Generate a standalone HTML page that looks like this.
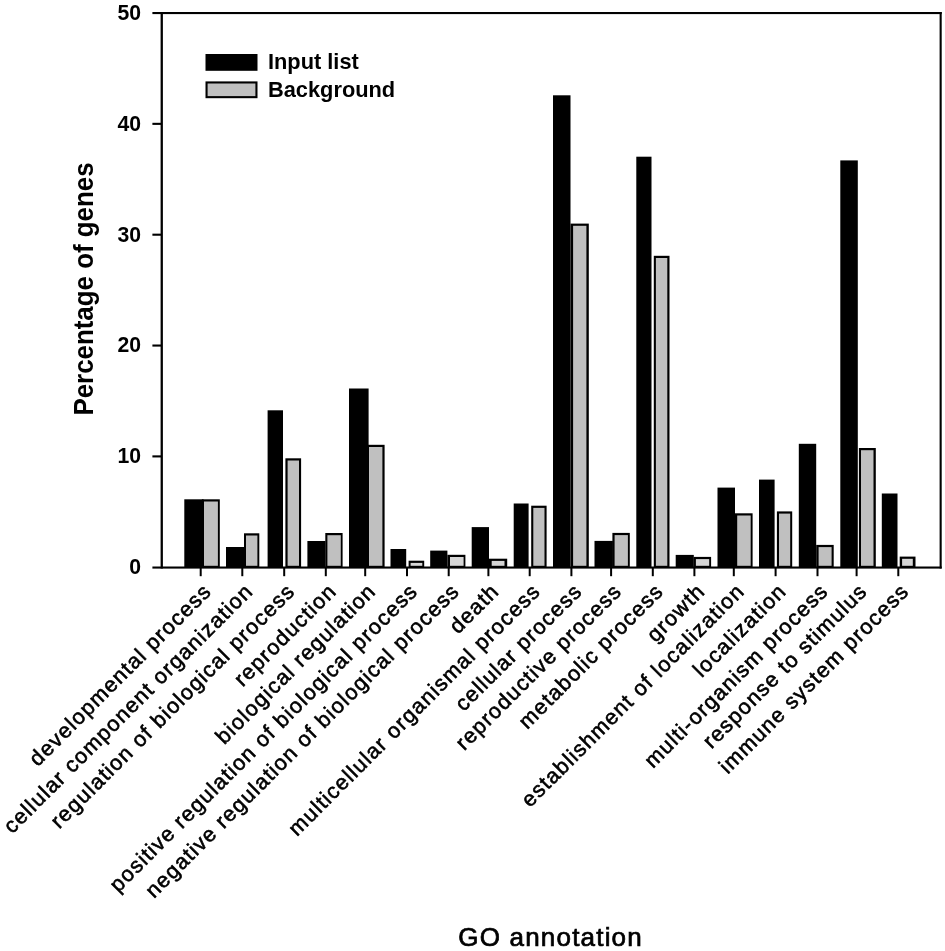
<!DOCTYPE html>
<html><head><meta charset="utf-8"><title>GO annotation chart</title>
<style>
html,body{margin:0;padding:0;background:#fff;}
body{width:945px;height:951px;overflow:hidden;}
svg{display:block;filter:blur(0.5px);}
text{font-family:"Liberation Sans",sans-serif;fill:#000;}
.b{font-weight:bold;}
</style></head><body>
<svg width="945" height="951" viewBox="0 0 945 951">
<rect x="0" y="0" width="945" height="951" fill="#fff"/>

<rect x="184.3" y="499.3" width="19.3" height="68.1" fill="#000"/>
<rect x="201.9" y="499.3" width="17.9" height="68.1" fill="#000"/>
<rect x="204.0" y="501.5" width="13.9" height="64.3" fill="#c0c0c0"/>
<rect x="226.0" y="547.0" width="18.0" height="20.4" fill="#000"/>
<rect x="244.0" y="533.3" width="15.3" height="34.1" fill="#000"/>
<rect x="246.0" y="535.5" width="11.4" height="30.3" fill="#c0c0c0"/>
<rect x="267.6" y="410.3" width="15.4" height="157.1" fill="#000"/>
<rect x="285.4" y="458.3" width="15.7" height="109.1" fill="#000"/>
<rect x="287.6" y="460.5" width="11.4" height="105.3" fill="#c0c0c0"/>
<rect x="307.4" y="541.0" width="18.1" height="26.4" fill="#000"/>
<rect x="325.3" y="533.0" width="17.3" height="34.4" fill="#000"/>
<rect x="327.4" y="535.2" width="13.4" height="30.6" fill="#c0c0c0"/>
<rect x="349.0" y="388.5" width="19.6" height="178.9" fill="#000"/>
<rect x="366.8" y="444.8" width="17.8" height="122.6" fill="#000"/>
<rect x="369.0" y="447.0" width="13.4" height="118.8" fill="#c0c0c0"/>
<rect x="390.5" y="549.0" width="15.7" height="18.4" fill="#000"/>
<rect x="408.6" y="560.7" width="15.6" height="6.7" fill="#000"/>
<rect x="410.6" y="562.9" width="11.7" height="2.9" fill="#d6d6d6"/>
<rect x="430.2" y="550.6" width="17.2" height="16.8" fill="#000"/>
<rect x="447.4" y="554.8" width="18.0" height="12.6" fill="#000"/>
<rect x="450.0" y="557.0" width="13.6" height="8.8" fill="#d6d6d6"/>
<rect x="471.7" y="527.1" width="17.3" height="40.3" fill="#000"/>
<rect x="489.0" y="558.7" width="18.2" height="8.7" fill="#000"/>
<rect x="491.7" y="560.9" width="12.8" height="4.9" fill="#d6d6d6"/>
<rect x="513.7" y="503.5" width="14.9" height="63.9" fill="#000"/>
<rect x="531.2" y="505.7" width="15.4" height="61.7" fill="#000"/>
<rect x="533.3" y="507.9" width="11.2" height="57.9" fill="#c0c0c0"/>
<rect x="553.0" y="95.3" width="17.5" height="472.1" fill="#000"/>
<rect x="570.5" y="223.6" width="18.3" height="343.8" fill="#000"/>
<rect x="573.1" y="225.8" width="13.3" height="340.0" fill="#c0c0c0"/>
<rect x="594.5" y="540.9" width="18.4" height="26.5" fill="#000"/>
<rect x="612.4" y="532.9" width="17.4" height="34.5" fill="#000"/>
<rect x="614.6" y="535.1" width="13.3" height="30.7" fill="#c0c0c0"/>
<rect x="636.3" y="156.7" width="15.2" height="410.7" fill="#000"/>
<rect x="653.8" y="255.8" width="15.7" height="311.6" fill="#000"/>
<rect x="655.9" y="258.0" width="11.4" height="307.8" fill="#c0c0c0"/>
<rect x="675.7" y="554.9" width="18.1" height="12.5" fill="#000"/>
<rect x="693.6" y="556.9" width="17.5" height="10.5" fill="#000"/>
<rect x="695.9" y="559.1" width="13.3" height="6.7" fill="#d6d6d6"/>
<rect x="717.5" y="487.6" width="17.5" height="79.8" fill="#000"/>
<rect x="734.8" y="513.3" width="17.8" height="54.1" fill="#000"/>
<rect x="737.2" y="515.5" width="13.5" height="50.3" fill="#c0c0c0"/>
<rect x="759.0" y="479.6" width="15.6" height="87.8" fill="#000"/>
<rect x="776.9" y="511.4" width="15.3" height="56.0" fill="#000"/>
<rect x="779.0" y="513.6" width="11.2" height="52.2" fill="#c0c0c0"/>
<rect x="798.8" y="443.8" width="17.4" height="123.6" fill="#000"/>
<rect x="816.2" y="544.9" width="17.5" height="22.5" fill="#000"/>
<rect x="818.6" y="547.1" width="13.0" height="18.7" fill="#c0c0c0"/>
<rect x="840.3" y="160.4" width="17.5" height="407.0" fill="#000"/>
<rect x="858.9" y="448.0" width="16.9" height="119.4" fill="#000"/>
<rect x="861.0" y="450.2" width="12.5" height="115.6" fill="#c0c0c0"/>
<rect x="881.8" y="493.5" width="15.7" height="73.9" fill="#000"/>
<rect x="899.7" y="556.6" width="15.8" height="10.8" fill="#000"/>
<rect x="902.1" y="558.8" width="10.7" height="7.0" fill="#d6d6d6"/>
<g fill="#000">
<rect x="160.6" y="12" width="2.3" height="556.5"/>
<rect x="152.4" y="12" width="789.3" height="2.1"/>
<rect x="939.6" y="12" width="2.1" height="556.5"/>
<rect x="152.4" y="566.5" width="789.3" height="2.1"/>
<rect x="152.4" y="122.80" width="9" height="2.1"/>
<rect x="152.4" y="233.65" width="9" height="2.1"/>
<rect x="152.4" y="344.50" width="9" height="2.1"/>
<rect x="152.4" y="455.35" width="9" height="2.1"/>
<rect x="199.7" y="567" width="2.0" height="9.2"/>
<rect x="241.3" y="567" width="2.0" height="9.2"/>
<rect x="283.2" y="567" width="2.0" height="9.2"/>
<rect x="324.8" y="567" width="2.0" height="9.2"/>
<rect x="364.2" y="567" width="2.0" height="9.2"/>
<rect x="406.0" y="567" width="2.0" height="9.2"/>
<rect x="447.7" y="567" width="2.0" height="9.2"/>
<rect x="487.4" y="567" width="2.0" height="9.2"/>
<rect x="528.7" y="567" width="2.0" height="9.2"/>
<rect x="570.4" y="567" width="2.0" height="9.2"/>
<rect x="610.1" y="567" width="2.0" height="9.2"/>
<rect x="651.8" y="567" width="2.0" height="9.2"/>
<rect x="693.4" y="567" width="2.0" height="9.2"/>
<rect x="732.8" y="567" width="2.0" height="9.2"/>
<rect x="774.6" y="567" width="2.0" height="9.2"/>
<rect x="816.5" y="567" width="2.0" height="9.2"/>
<rect x="855.6" y="567" width="2.0" height="9.2"/>
<rect x="897.3" y="567" width="2.0" height="9.2"/>
</g>
<text class="b" font-size="21.2" text-anchor="end" transform="translate(141,19.9) scale(1,1.07)">50</text>
<text class="b" font-size="21.2" text-anchor="end" transform="translate(141,130.8) scale(1,1.07)">40</text>
<text class="b" font-size="21.2" text-anchor="end" transform="translate(141,241.6) scale(1,1.07)">30</text>
<text class="b" font-size="21.2" text-anchor="end" transform="translate(141,352.4) scale(1,1.07)">20</text>
<text class="b" font-size="21.2" text-anchor="end" transform="translate(141,463.3) scale(1,1.07)">10</text>
<text class="b" font-size="21.2" text-anchor="end" transform="translate(141,574.1) scale(1,1.07)">0</text>
<text class="b" font-size="25.9" text-anchor="middle" transform="translate(92.5,289) rotate(-90) scale(1,1.04)">Percentage of genes</text>
<text font-size="26" stroke="#000" stroke-width="0.7" text-anchor="middle" x="550" y="946.3" textLength="183.5" lengthAdjust="spacing">GO annotation</text>
<rect x="205.5" y="54" width="52" height="16.8" fill="#000"/>
<rect x="205.5" y="81.4" width="52" height="16.8" fill="#000"/>
<rect x="207.6" y="83.5" width="47.8" height="12.6" fill="#c0c0c0"/>
<text class="b" font-size="21.8" transform="translate(268.0,69.2) scale(1,1.04)">Input list</text>
<text class="b" font-size="21.8" transform="translate(268.0,96.7) scale(1,1.04)">Background</text>
<text font-size="21.5" letter-spacing="1.25" stroke="#000" stroke-width="0.6" stroke-linejoin="round" text-anchor="end" transform="translate(212.7,592.4) rotate(-45)">developmental process</text>
<text font-size="21.5" letter-spacing="1.25" stroke="#000" stroke-width="0.6" stroke-linejoin="round" text-anchor="end" transform="translate(254.3,592.4) rotate(-45)">cellular component organization</text>
<text font-size="21.5" letter-spacing="1.25" stroke="#000" stroke-width="0.6" stroke-linejoin="round" text-anchor="end" transform="translate(296.2,592.4) rotate(-45)">regulation of biological process</text>
<text font-size="21.5" letter-spacing="1.25" stroke="#000" stroke-width="0.6" stroke-linejoin="round" text-anchor="end" transform="translate(337.8,592.4) rotate(-45)">reproduction</text>
<text font-size="21.5" letter-spacing="1.25" stroke="#000" stroke-width="0.6" stroke-linejoin="round" text-anchor="end" transform="translate(377.2,592.4) rotate(-45)">biological regulation</text>
<text font-size="21.5" letter-spacing="1.25" stroke="#000" stroke-width="0.6" stroke-linejoin="round" text-anchor="end" transform="translate(419.0,592.4) rotate(-45)">positive regulation of biological process</text>
<text font-size="21.5" letter-spacing="1.25" stroke="#000" stroke-width="0.6" stroke-linejoin="round" text-anchor="end" transform="translate(460.7,592.4) rotate(-45)">negative regulation of biological process</text>
<text font-size="21.5" letter-spacing="1.25" stroke="#000" stroke-width="0.6" stroke-linejoin="round" text-anchor="end" transform="translate(500.4,592.4) rotate(-45)">death</text>
<text font-size="21.5" letter-spacing="1.25" stroke="#000" stroke-width="0.6" stroke-linejoin="round" text-anchor="end" transform="translate(541.7,592.4) rotate(-45)">multicellular organismal process</text>
<text font-size="21.5" letter-spacing="1.25" stroke="#000" stroke-width="0.6" stroke-linejoin="round" text-anchor="end" transform="translate(583.4,592.4) rotate(-45)">cellular process</text>
<text font-size="21.5" letter-spacing="1.25" stroke="#000" stroke-width="0.6" stroke-linejoin="round" text-anchor="end" transform="translate(623.1,592.4) rotate(-45)">reproductive process</text>
<text font-size="21.5" letter-spacing="1.25" stroke="#000" stroke-width="0.6" stroke-linejoin="round" text-anchor="end" transform="translate(664.8,592.4) rotate(-45)">metabolic process</text>
<text font-size="21.5" letter-spacing="1.25" stroke="#000" stroke-width="0.6" stroke-linejoin="round" text-anchor="end" transform="translate(706.4,592.4) rotate(-45)">growth</text>
<text font-size="21.5" letter-spacing="1.25" stroke="#000" stroke-width="0.6" stroke-linejoin="round" text-anchor="end" transform="translate(745.8,592.4) rotate(-45)">establishment of localization</text>
<text font-size="21.5" letter-spacing="1.25" stroke="#000" stroke-width="0.6" stroke-linejoin="round" text-anchor="end" transform="translate(787.6,592.4) rotate(-45)">localization</text>
<text font-size="21.5" letter-spacing="1.25" stroke="#000" stroke-width="0.6" stroke-linejoin="round" text-anchor="end" transform="translate(829.5,592.4) rotate(-45)">multi-organism process</text>
<text font-size="21.5" letter-spacing="1.25" stroke="#000" stroke-width="0.6" stroke-linejoin="round" text-anchor="end" transform="translate(868.6,592.4) rotate(-45)">response to stimulus</text>
<text font-size="21.5" letter-spacing="1.25" stroke="#000" stroke-width="0.6" stroke-linejoin="round" text-anchor="end" transform="translate(910.3,592.4) rotate(-45)">immune system process</text>
</svg></body></html>
